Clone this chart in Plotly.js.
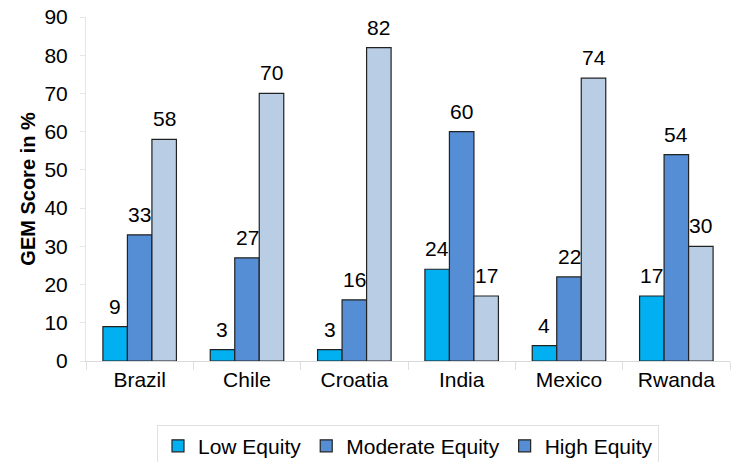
<!DOCTYPE html>
<html>
<head>
<meta charset="utf-8">
<script src="https://cdn.plot.ly/plotly-3.0.1.min.js"></script>
<style>html,body{margin:0;padding:0;background:#fff;}#chart{width:735px;height:462px;}</style>
</head>
<body>
<div id="chart"></div>
<script>
const categories = ["Brazil", "Chile", "Croatia", "India", "Mexico", "Rwanda"];
const lowEquity = [9, 3, 3, 24, 4, 17];
const moderateEquity = [33, 27, 16, 60, 22, 54];
const highEquity = [58, 70, 82, 17, 74, 30];
const seriesNames = ["Low Equity", "Moderate Equity", "High Equity"];
const yTicks = [0, 10, 20, 30, 40, 50, 60, 70, 80, 90];

const colors = ["#00B0F0", "#558ED5", "#B9CDE5"];
const legendColors = ["#00B0F0", "#558ED5", "#558ED5"];
const font = "Liberation Sans, Arial, sans-serif";
const FS = 21;

const W = 735, H = 462;
const margin = {l: 86, r: 5, t: 17, b: 101, autoexpand: false};
const bargap = 0.315;
const barPx = (W - margin.l - margin.r) / categories.length * (1 - bargap) / 3;

const series = [lowEquity, moderateEquity, highEquity];
const traces = series.map((vals, i) => ({
  type: "bar",
  x: categories,
  y: vals,
  name: seriesNames[i],
  offsetgroup: String(i),
  showlegend: false,
  marker: {color: colors[i], line: {color: "#222", width: 1.2}}
}));
// legend entries (as in the reference legend)
seriesNames.forEach((n, i) => traces.push({
  type: "bar", x: [categories[0]], y: [null], name: n, showlegend: true,
  offsetgroup: String(i),
  marker: {color: legendColors[i], line: {color: "#222", width: 1.2}}
}));

const annotations = [];
series.forEach((vals, i) => vals.forEach((v, j) => annotations.push({
  x: categories[j], y: v, xref: "x", yref: "y", text: String(v),
  showarrow: false, yanchor: "bottom", xanchor: "center",
  xshift: (i - 1) * barPx, yshift: 7,
  font: {family: font, size: FS, color: "#000"}
})));

const layout = {
  width: W, height: H,
  margin: margin,
  paper_bgcolor: "#fff", plot_bgcolor: "#fff",
  barmode: "group",
  bargap: bargap, bargroupgap: 0,
  font: {family: font, size: FS, color: "#000"},
  annotations: annotations,
  xaxis: {
    showgrid: false, showline: true, linecolor: "#d9d9d9", linewidth: 1,
    ticks: "outside", tickson: "boundaries", ticklen: 8, tickcolor: "#e0e0e0",
    tickfont: {family: font, size: FS, color: "#000"}, fixedrange: true
  },
  yaxis: {
    range: [0, 90], tickvals: yTicks, ticktext: yTicks.map(String),
    showgrid: false, showline: true, linecolor: "#e6e6e6", linewidth: 1,
    ticks: "outside", ticklen: 5, tickcolor: "#e6e6e6", zeroline: false,
    ticklabelstandoff: 8,
    tickfont: {family: font, size: FS, color: "#000"},
    title: {text: "<b>GEM Score in %</b>", font: {family: font, size: 20, color: "#000"}, standoff: 3}
  },
  legend: {
    orientation: "h", x: 0.5, xanchor: "center", y: -0.185, yanchor: "top",
    bordercolor: "#e0e0e0", borderwidth: 1,
    font: {family: font, size: FS, color: "#000"},
    traceorder: "normal", itemwidth: 20, tracegroupgap: 0
  },
  showlegend: true
};

Plotly.newPlot("chart", traces, layout, {staticPlot: true});
</script>
</body>
</html>
